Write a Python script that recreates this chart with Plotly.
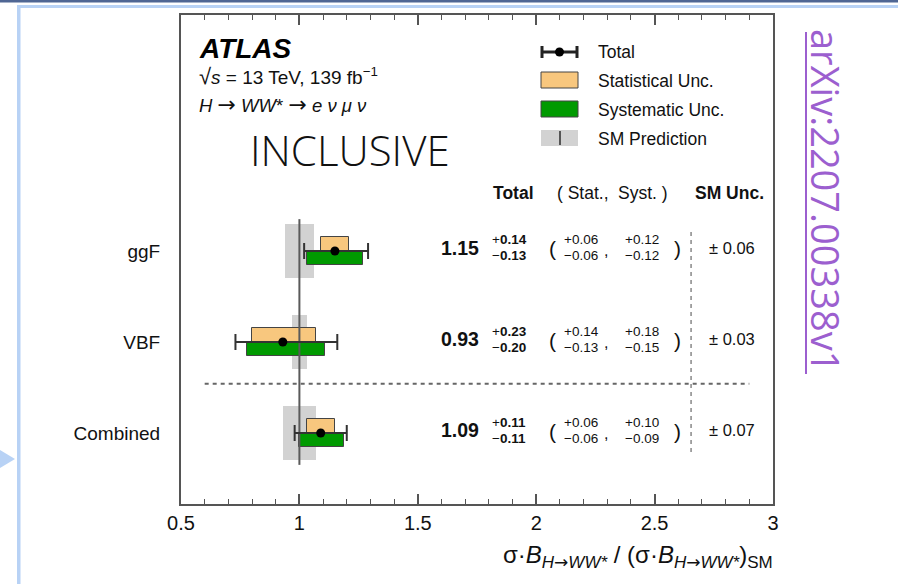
import plotly.graph_objects as go

# ---------------- data ----------------
categories = ["ggF", "VBF", "Combined"]
central = [1.15, 0.93, 1.09]
tot_hi = [0.14, 0.23, 0.11]
tot_lo = [0.13, 0.20, 0.11]
stat_hi = [0.06, 0.14, 0.06]
stat_lo = [0.06, 0.13, 0.06]
syst_hi = [0.12, 0.18, 0.10]
syst_lo = [0.12, 0.15, 0.09]
sm_unc = [0.06, 0.03, 0.07]
sm_value = 1.0
x_ticks = [0.5, 1, 1.5, 2, 2.5, 3]
x_ticklabels = ["0.5", "1", "1.5", "2", "2.5", "3"]

# ---------------- geometry helpers ----------------
W, H = 898, 584
PL, PR, PT, PB = 181, 773, 15, 504
XR = [0.5, 3.0]
YR = [0.22, 5.593]
rows = [len(categories) - i for i in range(len(categories))]  # 3,2,1


def xp(px):
    return (px - PL) / (PR - PL)


def yp(py):
    return (PB - py) / (PB - PT)


FONT = "Liberation Sans, Arial, Helvetica, sans-serif"
TXT = "#111111"
ORANGE = "#f8c77e"
GREEN = "#009a00"
GREY = "#d2d2d2"
EDGE = "#444444"
ARROW = '<span style="font-family:DejaVu Sans">→</span>'
BIGARROW = '<span style="font-family:DejaVu Sans;font-size:22px">→</span>'

BOXH = 0.154
BANDH = 0.593

fig = go.Figure()

# SM band
fig.add_trace(go.Bar(
    orientation="h", y=rows,
    base=[sm_value - u for u in sm_unc], x=[2 * u for u in sm_unc],
    width=BANDH, marker=dict(color=GREY, line=dict(width=0)), showlegend=False,
))
# SM line
fig.add_trace(go.Scatter(
    x=[sm_value, sm_value], y=[min(rows) - 0.35, max(rows) + 0.35],
    mode="lines", line=dict(color="#5a5a5a", width=2), showlegend=False,
))
# stat boxes (upper half)
fig.add_trace(go.Bar(
    orientation="h", y=[r + BOXH / 2 for r in rows],
    base=[c - l for c, l in zip(central, stat_lo)],
    x=[l + h for l, h in zip(stat_lo, stat_hi)],
    width=BOXH, marker=dict(color=ORANGE, line=dict(color=EDGE, width=1)),
    showlegend=False,
))
# syst boxes (lower half)
fig.add_trace(go.Bar(
    orientation="h", y=[r - BOXH / 2 for r in rows],
    base=[c - l for c, l in zip(central, syst_lo)],
    x=[l + h for l, h in zip(syst_lo, syst_hi)],
    width=BOXH, marker=dict(color=GREEN, line=dict(color=EDGE, width=1)),
    showlegend=False,
))
# total error
fig.add_trace(go.Scatter(
    x=central, y=rows, mode="markers",
    marker=dict(color="black", size=9),
    error_x=dict(type="data", symmetric=False, array=tot_hi, arrayminus=tot_lo,
                 color="#333333", thickness=2, width=8),
    showlegend=False,
))

shapes = []
annotations = []

# dashed separators
shapes.append(dict(type="line", xref="x", yref="y", x0=0.6, x1=2.9, y0=1.54, y1=1.54,
                   line=dict(color="#666666", width=2, dash="4px,4px")))
shapes.append(dict(type="line", xref="x", yref="y", x0=2.654, x1=2.654, y0=0.79, y1=3.21,
                   line=dict(color="#888888", width=1.5, dash="4px,4px")))

# slide decorations
shapes.append(dict(type="rect", xref="paper", yref="paper", x0=xp(0), x1=xp(W), y0=yp(0), y1=yp(2.5),
                   fillcolor="#4f6694", line=dict(width=0), layer="above"))
shapes.append(dict(type="rect", xref="paper", yref="paper", x0=xp(17), x1=xp(W), y0=yp(5), y1=yp(8),
                   fillcolor="#b8d2f5", line=dict(width=0), layer="above"))
shapes.append(dict(type="rect", xref="paper", yref="paper", x0=xp(17), x1=xp(20.5), y0=yp(5), y1=yp(H),
                   fillcolor="#b8d2f5", line=dict(width=0), layer="above"))
shapes.append(dict(type="path", xref="paper", yref="paper",
                   path=f"M {xp(0)} {yp(450)} L {xp(15)} {yp(459)} L {xp(0)} {yp(468)} Z",
                   fillcolor="#b8d2f5", line=dict(width=0), layer="above"))

# legend symbols
LX0, LX1 = 541, 578
lyc = 52
shapes += [
    dict(type="line", xref="paper", yref="paper", x0=xp(LX0), x1=xp(LX1), y0=yp(lyc), y1=yp(lyc),
         line=dict(color="#222", width=3)),
    dict(type="line", xref="paper", yref="paper", x0=xp(LX0 + 1), x1=xp(LX0 + 1), y0=yp(lyc - 6), y1=yp(lyc + 6),
         line=dict(color="#222", width=3)),
    dict(type="line", xref="paper", yref="paper", x0=xp(LX1 - 1), x1=xp(LX1 - 1), y0=yp(lyc - 6), y1=yp(lyc + 6),
         line=dict(color="#222", width=3)),
    dict(type="circle", xref="paper", yref="paper", x0=xp(555), x1=xp(564), y0=yp(lyc - 4.5), y1=yp(lyc + 4.5),
         fillcolor="black", line=dict(width=0)),
    dict(type="rect", xref="paper", yref="paper", x0=xp(LX0), x1=xp(LX1), y0=yp(72), y1=yp(88),
         fillcolor=ORANGE, line=dict(color=EDGE, width=1)),
    dict(type="rect", xref="paper", yref="paper", x0=xp(LX0), x1=xp(LX1), y0=yp(101), y1=yp(117),
         fillcolor=GREEN, line=dict(color=EDGE, width=1)),
    dict(type="rect", xref="paper", yref="paper", x0=xp(LX0), x1=xp(LX1), y0=yp(130), y1=yp(146),
         fillcolor=GREY, line=dict(width=0)),
    dict(type="line", xref="paper", yref="paper", x0=xp(560), x1=xp(560), y0=yp(131), y1=yp(145),
         line=dict(color="#555", width=2)),
]
for txt, py in [("Total", 52), ("Statistical Unc.", 81), ("Systematic Unc.", 110), ("SM Prediction", 139)]:
    annotations.append(dict(text=txt, xref="paper", yref="paper", x=xp(596), y=yp(py),
                            xanchor="left", yanchor="middle", showarrow=False,
                            font=dict(family=FONT, size=17.5, color=TXT)))

# ATLAS labels
annotations.append(dict(text="<b><i>ATLAS</i></b>", xref="paper", yref="paper", x=xp(197), y=yp(48),
                        xanchor="left", yanchor="middle", showarrow=False,
                        font=dict(family=FONT, size=28, color="black")))
annotations.append(dict(text='<span style="font-size:22px">√</span><i>s</i> = 13 TeV, 139 fb<sup>−1</sup>',
                        xref="paper", yref="paper",
                        x=xp(197), y=yp(77), xanchor="left", yanchor="middle", showarrow=False,
                        font=dict(family=FONT, size=19, color=TXT)))
annotations.append(dict(text=f"<i>H</i> {BIGARROW} <i>WW</i>* {BIGARROW} <i>e ν μ ν</i>",
                        xref="paper", yref="paper",
                        x=xp(197), y=yp(104), xanchor="left", yanchor="middle", showarrow=False,
                        font=dict(family=FONT, size=18.5, color=TXT)))
annotations.append(dict(text="INCLUSIVE", xref="paper", yref="paper", x=xp(248), y=yp(150),
                        xanchor="left", yanchor="middle", showarrow=False,
                        font=dict(family="Open Sans, Noto Sans, sans-serif", size=42, color="#111",
                                  weight=300)))

# table header
hy = yp(193)
annotations += [
    dict(text="<b>Total</b>", xref="paper", yref="paper", x=xp(491), y=hy, xanchor="left", yanchor="middle",
         showarrow=False, font=dict(family=FONT, size=17.5, color=TXT)),
    dict(text="( Stat.,", xref="paper", yref="paper", x=xp(555), y=hy, xanchor="left", yanchor="middle",
         showarrow=False, font=dict(family=FONT, size=17.5, color=TXT)),
    dict(text="Syst. )", xref="paper", yref="paper", x=xp(670), y=hy, xanchor="right", yanchor="middle",
         showarrow=False, font=dict(family=FONT, size=17.5, color=TXT)),
    dict(text="<b>SM Unc.</b>", xref="paper", yref="paper", x=xp(766), y=hy, xanchor="right", yanchor="middle",
         showarrow=False, font=dict(family=FONT, size=17.5, color=TXT)),
]

# table rows
for r, c, th, tl, sh, sl, yh, yl, su in zip(rows, central, tot_hi, tot_lo, stat_hi, stat_lo,
                                           syst_hi, syst_lo, sm_unc):
    def ann(text, px, shift, size, anchor="left", bold=False):
        t = f"<b>{text}</b>" if bold else text
        annotations.append(dict(text=t, xref="paper", yref="y", x=xp(px), y=r, yshift=shift,
                                xanchor=anchor, yanchor="middle", showarrow=False,
                                font=dict(family=FONT, size=size, color=TXT)))
    ann(f"{c:.2f}", 481, 3, 19.5, anchor="right", bold=True)
    ann(f"+<b>{th:.2f}</b>", 490, 11, 13.5)
    ann(f"−<b>{tl:.2f}</b>", 490, -5, 13.5)
    ann("(", 552, 2, 21, anchor="center")
    ann(f"+{sh:.2f}", 562, 11, 13.5)
    ann(f"−{sl:.2f}", 562, -5, 13.5)
    ann(",", 606, 0, 16, anchor="center")
    ann(f"+{yh:.2f}", 623, 11, 13.5)
    ann(f"−{yl:.2f}", 623, -5, 13.5)
    ann(")", 677, 2, 21, anchor="center")
    ann(f"± {su:.2f}", 707, 3, 16.5)

# x-axis title
SUB = '<sub><span style="font-size:17px"><i>H</i>' + ARROW + '<i>WW*</i></span></sub>'
annotations.append(dict(
    text=f"σ·<i>B</i>{SUB} / (σ·<i>B</i>{SUB})" + '<sub><span style="font-size:17px">SM</span></sub>',
    xref="paper", yref="paper", x=xp(775), y=yp(556), xanchor="right", yanchor="middle",
    showarrow=False, font=dict(family=FONT, size=24, color=TXT)))

# arXiv tag
ARX = "#9c5fcf"
annotations.append(dict(text="arXiv:2207.00338v1", xref="paper", yref="paper", x=xp(826), y=yp(200),
                        xanchor="center", yanchor="middle", textangle=90, showarrow=False,
                        font=dict(family="Open Sans, Noto Sans, sans-serif", size=38, color=ARX)))
shapes.append(dict(type="line", xref="paper", yref="paper", x0=xp(806), x1=xp(806), y0=yp(32), y1=yp(374),
                   line=dict(color=ARX, width=2)))

fig.update_layout(
    width=W, height=H,
    margin=dict(l=PL, r=W - PR, t=PT, b=H - PB, pad=0),
    paper_bgcolor="white", plot_bgcolor="white",
    barmode="overlay", bargap=0,
    shapes=shapes, annotations=annotations,
    showlegend=False,
    xaxis=dict(range=XR, tickvals=x_ticks, ticktext=x_ticklabels, ticks="inside", ticklen=10,
               tickwidth=1.5, tickcolor="#555", showgrid=False, zeroline=False,
               showline=True, linecolor="#555", linewidth=2, mirror="allticks",
               minor=dict(dtick=0.1, ticks="inside", ticklen=5, tickwidth=1, tickcolor="#555",
                          showgrid=False),
               tickfont=dict(family=FONT, size=20, color=TXT), fixedrange=True),
    yaxis=dict(range=YR, tickvals=rows, ticktext=categories, ticks="outside", ticklen=15,
               tickcolor="rgba(0,0,0,0)", showgrid=False, zeroline=False,
               showline=True, linecolor="#555", linewidth=2, mirror=True,
               tickfont=dict(family=FONT, size=19, color=TXT), fixedrange=True),
)

fig.write_html("out.html")
